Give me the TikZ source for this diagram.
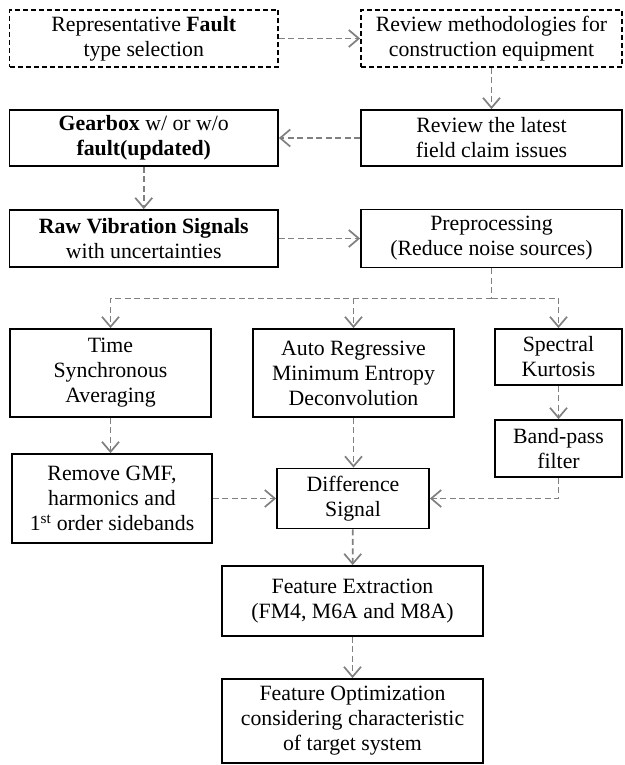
\documentclass[tikz,border=0pt]{standalone}
\usepackage{fontspec}
\setmainfont{Liberation Serif}
\usetikzlibrary{arrows.meta}

\begin{document}
\begin{tikzpicture}[x=1pt, y=-1pt]

    \useasboundingbox (0,0) rectangle (624,765);

    % Estilos das caixas e setas
    \tikzset{
        box/.style={draw, line width=1.8pt, align=center, inner sep=2pt,
            font=\fontsize{21.8}{25}\selectfont},
        dbox/.style={box, dash pattern=on 5pt off 3pt},
        flow/.style={draw=black!50, line width=1.7pt, dash pattern=on 6pt off 3.5pt,
            -{Straight Barb[length=10pt, width=17pt]}},
        link/.style={flow, -}
    }

    % --------------------
    % Selecao e revisao
    % --------------------
    \node[dbox, minimum width=268.5, minimum height=57] (rep) at (143.75,38.5)
        {Representative \textbf{Fault}\\type selection};
    \node[dbox, minimum width=261, minimum height=57] (review) at (491.5,38.5)
        {Review methodologies for\\construction equipment};

    \node[box, minimum width=268.5, minimum height=56] (gearbox) at (143.75,138)
        {\textbf{Gearbox} w/ or w/o\\\textbf{fault(updated)}};
    \node[box, minimum width=261, minimum height=56] (claims) at (491.5,138)
        {Review the latest\\field claim issues};

    % --------------------
    % Sinais
    % --------------------
    \node[box, minimum width=268.5, minimum height=57] (raw) at (143.75,238.5)
        {\textbf{Raw Vibration Signals}\\with uncertainties};
    \node[box, minimum width=261, minimum height=58] (prep) at (491.5,238.5)
        {Preprocessing\\(Reduce noise sources)};

    % --------------------
    % Tres ramos
    % --------------------
    \node[box, minimum width=201, minimum height=88] (tsa) at (110.5,373)
        {Time\\Synchronous\\Averaging};
    \node[box, minimum width=201, minimum height=88] (armed) at (353.5,373)
        {Auto Regressive\\Minimum Entropy\\Deconvolution};
    \node[box, minimum width=127, minimum height=56] (sk) at (558.5,357)
        {Spectral\\Kurtosis};
    \node[box, minimum width=127, minimum height=57] (bpf) at (558.5,448.5)
        {Band-pass\\filter};
    \node[box, minimum width=200, minimum height=89] (remove) at (112,498.5)
        {Remove GMF,\\harmonics and\\1\textsuperscript{st} order sidebands};
    \node[box, minimum width=152, minimum height=60] (diff) at (353,498.5)
        {Difference\\Signal};

    % --------------------
    % Caracteristicas
    % --------------------
    \node[box, minimum width=261, minimum height=70] (feat) at (352.5,601)
        {Feature Extraction\\(FM4, M6A and M8A)};
    \node[box, minimum width=261, minimum height=84] (opt) at (352.5,721)
        {Feature Optimization\\considering characteristic\\of target system};

    % --------------------
    % Setas
    % --------------------
    \draw[flow] (rep) -- (review);
    \draw[flow] (review) -- (claims);
    \draw[flow] (claims) -- (gearbox);
    \draw[flow] (gearbox) -- (raw);
    \draw[flow] (raw) -- (prep);

    \draw[link] (prep.south) -- ++(0,30) coordinate (fork);
    \draw[flow] (fork) -| (tsa.north);
    \draw[flow] (fork) -| (sk.north);
    \draw[flow] (armed.north |- fork) -- (armed.north);

    \draw[flow] (tsa.south) -- (tsa.south |- remove.north);
    \draw[flow] (armed.south) -- (armed.south |- diff.north);
    \draw[flow] (sk) -- (bpf);
    \draw[flow] (remove.east) -- (remove.east -| diff.west);
    \draw[flow] (bpf.south) |- (diff.east);

    \draw[flow] (diff) -- (feat);
    \draw[flow] (feat) -- (opt);

\end{tikzpicture}
\end{document}
